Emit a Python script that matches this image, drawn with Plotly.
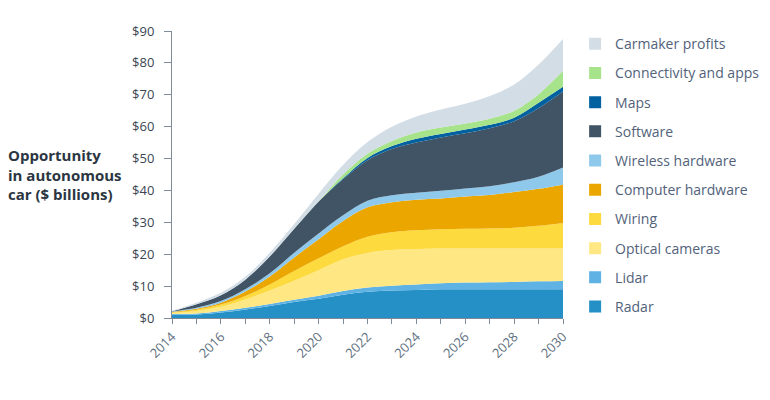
import plotly.graph_objects as go

years = list(range(2014, 2031))

radar = [1.0, 1.1, 1.7, 2.7, 3.8, 5.0, 6.0, 7.3, 8.2, 8.6, 8.8, 9.0, 9.0, 9.0, 9.0, 9.0, 9.0]
lidar = [0.3, 0.3, 0.5, 0.5, 0.6, 0.7, 1.0, 1.2, 1.4, 1.5, 1.7, 1.9, 2.1, 2.2, 2.3, 2.5, 2.6]
optical = [0.3, 0.8, 1.3, 2.6, 4.2, 6.0, 8.0, 9.9, 10.8, 11.2, 11.1, 10.9, 10.7, 10.6, 10.5, 10.3, 10.2]
wiring = [0.2, 0.4, 0.7, 1.1, 1.9, 3.0, 3.7, 4.1, 5.1, 5.6, 5.9, 6.0, 6.2, 6.3, 6.5, 7.1, 8.0]
computer = [0.1, 0.3, 0.6, 1.4, 2.5, 4.3, 6.0, 7.9, 9.2, 9.4, 9.6, 9.7, 10.1, 10.5, 11.2, 11.6, 12.0]
wireless = [0.1, 0.3, 0.5, 0.7, 1.0, 1.5, 1.8, 1.8, 2.1, 2.2, 2.2, 2.4, 2.5, 2.7, 3.1, 3.8, 5.4]
software = [0.1, 1.1, 1.8, 3.0, 5.3, 7.5, 10.0, 11.3, 12.7, 14.5, 15.7, 16.7, 17.3, 18.2, 19.1, 21.5, 23.8]
maps = [0, 0, 0, 0, 0, 0, 0, 0.3, 0.7, 0.9, 1.2, 1.1, 1.2, 1.1, 1.1, 1.7, 1.5]
connectivity = [0, 0, 0, 0, 0, 0, 0.1, 1.2, 1.3, 1.6, 2.0, 2.0, 1.9, 1.9, 2.2, 2.7, 5.0]
carmaker = [0.2, 0.5, 0.8, 0.9, 1.2, 1.5, 2.4, 3.0, 3.7, 4.5, 5.0, 5.7, 6.2, 7.1, 8.2, 9.3, 10.0]

series_names = ["Radar", "Lidar", "Optical cameras", "Wiring", "Computer hardware",
                "Wireless hardware", "Software", "Maps", "Connectivity and apps", "Carmaker profits"]
series_values = [radar, lidar, optical, wiring, computer, wireless, software, maps, connectivity, carmaker]
series_colors = ["#2590C6", "#5EB3E4", "#FFE783", "#FDDA3D", "#EBA700", "#8EC8EB",
                 "#415466", "#0060A0", "#A7E38B", "#D3DDE6"]

y_ticks = list(range(0, 91, 10))
y_labels = ["$" + str(v) for v in y_ticks]
x_ticks = list(range(2014, 2031, 2))
x_labels = [str(v) for v in x_ticks]

fig = go.Figure()
for name, vals, col in zip(series_names, series_values, series_colors):
    fig.add_trace(go.Scatter(
        x=years, y=vals, name=name, mode="lines", stackgroup="one",
        line=dict(width=0, shape="spline", smoothing=1.0, color=col),
        fillcolor=col, showlegend=False, hoverinfo="skip"))

# legend entries (square swatches), top item first
for name, col in reversed(list(zip(series_names, series_colors))):
    fig.add_trace(go.Scatter(
        x=[None], y=[None], name=name, mode="markers",
        marker=dict(symbol="square", size=12, color=col),
        legendgroup=name, showlegend=True))

axis_col = "#7F8B97"
fig.update_layout(
    width=762, height=392,
    margin=dict(l=164, r=207, t=23, b=82, autoexpand=False),
    paper_bgcolor="white", plot_bgcolor="white",
    font=dict(family="Open Sans", color="#4D5C6B", size=13),
    showlegend=True,
    legend=dict(x=1.031, y=1.01, xanchor="left", yanchor="top",
                traceorder="grouped", tracegroupgap=8, maxheight=380,
                font=dict(size=14, color="#52627A"), bgcolor="rgba(0,0,0,0)",
                itemclick=False),
    xaxis=dict(range=[2014, 2030], tickvals=x_ticks, ticktext=x_labels, tickangle=-45,
               showgrid=False, zeroline=False, showline=True, linecolor=axis_col, linewidth=1,
               ticks="outside", ticklen=5, tickcolor=axis_col,
               tickfont=dict(size=13, color="#5F7080"),
               minor=dict(dtick=1, ticks="outside", ticklen=5, tickcolor=axis_col)),
    yaxis=dict(range=[0, 90], tickvals=y_ticks, ticktext=y_labels,
               showgrid=False, zeroline=False, showline=True, linecolor=axis_col, linewidth=1,
               ticks="outside", ticklen=7, tickcolor=axis_col, ticklabelstandoff=7,
               tickfont=dict(size=13, color="#3A4652")),
)

fig.add_annotation(
    xref="paper", yref="paper", x=-0.4246, y=0.50, xanchor="left", yanchor="middle",
    text="<b>Opportunity<br>in autonomous<br>car ($ billions)</b>", showarrow=False,
    align="left", font=dict(size=15, color="#2B3642", family="Open Sans"))

fig.write_html("out.html")
